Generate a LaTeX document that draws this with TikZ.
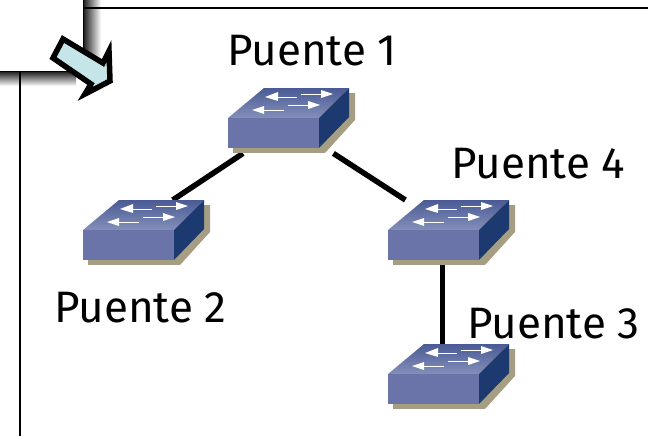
\documentclass[tikz,border=0pt]{standalone}
\usepackage{fontspec}
\setmainfont{Fira Sans}
\definecolor{swfront}{HTML}{6A74A8}
\definecolor{swright}{HTML}{1C3A70}
\definecolor{swtopa}{HTML}{4A5A94}
\definecolor{swtopb}{HTML}{8490BA}
\definecolor{swshadow}{HTML}{A69E82}
\definecolor{arrowfill}{HTML}{C5E5E8}
\tikzset{
  x=1pt,y=-1pt,
  wire/.style={line width=5.5pt,draw=black,line cap=butt},
  frameline/.style={line width=1.6pt,draw=black},
  label/.style={inner sep=0pt,anchor=base west,font=\fontsize{44}{44}\selectfont},
  swbox/.style={inner sep=0pt,minimum width=127pt,minimum height=65pt,anchor=north west},
  pics/switchicon/.style={code={
    \fill[swshadow] (5,55) rectangle (97,65);
    \fill[swshadow] (97,65)--(127,32)--(127,5)--(115,5)--(91,30)--cycle;
    \shade[top color=swtopa,bottom color=swtopb] (36,0)--(121,0)--(91,30)--(0,30)--cycle;
    \fill[swfront] (0,30) rectangle (91,60);
    \fill[swright] (121,0)--(91,30)--(91,60)--(121,29)--cycle;
    \draw[white,line width=1pt] (47,9)--(69,9) (73,6)--(95,6) (60,17)--(82,17) (30,22)--(56,22);
    \fill[white] (37,9)--(50,4)--(50,13)--cycle;
    \fill[white] (105,6)--(93,2)--(93,10)--cycle;
    \fill[white] (92,17)--(80,13)--(80,21)--cycle;
    \fill[white] (24,22)--(36,18)--(36,26)--cycle;
  }}
}
\begin{document}
\begin{tikzpicture}
\useasboundingbox (0,0) rectangle (648,436);
% window shadows and frame
\shade[left color=black!85,right color=white] (84,0) rectangle (101,72);
\shade[top color=black!85,bottom color=white] (0,72) rectangle (76,86);
\draw[frameline] (84,8) -- (648,8);
\draw[frameline] (20,72) -- (20,436);
\draw[frameline] (83.5,0) -- (83.5,71.5) -- (0,71.5);
% named switch areas and links
\node[swbox] (s1) at (228,88) {};
\node[swbox] (s2) at (83,200) {};
\node[swbox] (s4) at (388,200) {};
\node[swbox] (s3) at (388,344) {};
\draw[wire] ([xshift=15pt]s1.south west) -- ([xshift=26pt]s2.north);
\draw[wire] ([xshift=-22pt]s1.south east) -- ([xshift=-110pt]s4.north east);
\draw[wire] ([xshift=-9pt]s4.south) -- ([xshift=-9pt]s3.north);
% switches
\pic at (228,88) {switchicon};
\pic at (83,200) {switchicon};
\pic at (388,200) {switchicon};
\pic at (388,344) {switchicon};
% arrow
\filldraw[fill=arrowfill,draw=black,line width=5.5pt,line join=miter,miter limit=6]
  (63,39)--(53,58)--(91,84)--(85,94)--(110,81)--(109,51)--(103,63)--cycle;
% labels
\node[label] (l1) at (227,66) {Puente 1};
\node[label] (l4) at (451,178) {Puente 4};
\node[label] (l2) at (54,322) {Puente 2};
\node[label] (l3) at (467,338) {Puente 3};
\end{tikzpicture}
\end{document}
